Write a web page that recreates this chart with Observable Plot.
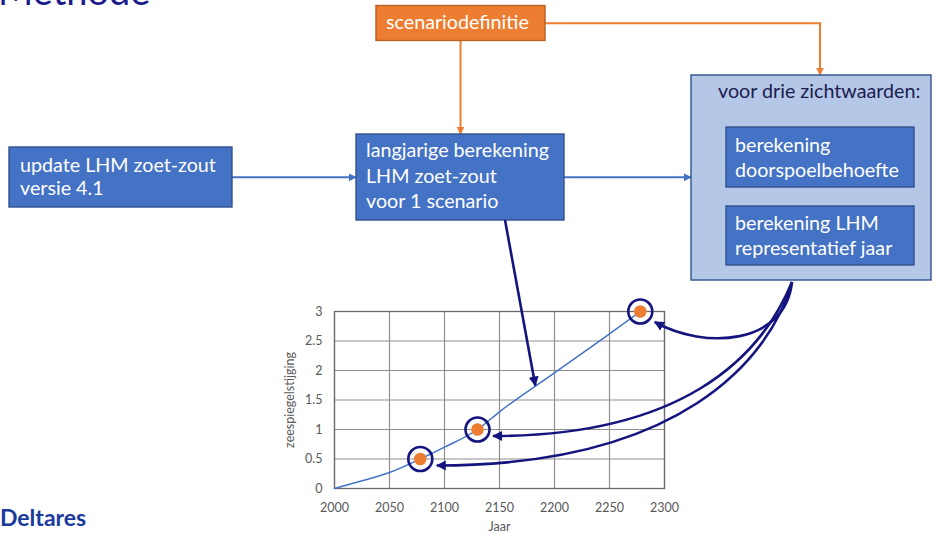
<!DOCTYPE html>
<html><head><meta charset="utf-8">
<script src="https://cdn.jsdelivr.net/npm/d3@7"></script>
<script src="https://cdn.jsdelivr.net/npm/@observablehq/plot@0.6"></script>
<style>
html,body{margin:0;padding:0;background:#fff;}
#page{position:relative;width:938px;height:533px;overflow:hidden;font-family:Lato,"Open Sans",sans-serif;}
#chart{position:absolute;left:280px;top:295px;}
</style></head>
<body><div id="page"><div id="chart"></div></div>
<script>
// ---- data ----
const years = [2000, 2025, 2050, 2078, 2100, 2130, 2150, 2200, 2250, 2278];
const rise  = [0, 0.13, 0.27, 0.5, 0.7, 1.0, 1.3, 1.96, 2.62, 3.0];
const pointYears = [2078, 2130, 2278];
const pointRise  = [0.5, 1.0, 3.0];
const xTicks = [2000, 2050, 2100, 2150, 2200, 2250, 2300];
const yTicks = [0, 0.5, 1, 1.5, 2, 2.5, 3];
const xLabel = "Jaar";
const yLabel = "zeespiegelstijging";
const markedYear = 2183; // where the straight arrow touches the curve

const titleText = "Methode";
const logoText = "Deltares";
const textUpdate = ["update LHM zoet-zout", "versie 4.1"];
const textLangjarig = ["langjarige berekening", "LHM zoet-zout", "voor 1 scenario"];
const textScenario = ["scenariodefinitie"];
const textHeader = ["voor drie zichtwaarden:"];
const textDoorspoel = ["berekening", "doorspoelbehoefte"];
const textRepr = ["berekening LHM", "representatief jaar"];

// ---- chart ----
const series = years.map((y, i) => ({year: y, rise: rise[i]}));
const points = pointYears.map((y, i) => ({year: y, rise: pointRise[i]}));
const CX = 280, CY = 295;
const navy = "#14147f";

const chart = Plot.plot({
  width: 400, height: 238,
  marginLeft: 54, marginTop: 16, marginRight: 16, marginBottom: 45,
  style: {fontFamily: "Lato, sans-serif", fontSize: "12.5px", color: "#595959", background: "transparent", overflow: "visible"},
  x: {domain: [2000, 2300]},
  y: {domain: [0, 3]},
  marks: [
    Plot.gridX(xTicks, {stroke: "#8f8f8f", strokeOpacity: 1, strokeWidth: 1.2}),
    Plot.gridY(yTicks, {stroke: "#8f8f8f", strokeOpacity: 1, strokeWidth: 1.2}),
    Plot.frame({stroke: "#6b6b6b", strokeWidth: 1.3}),
    Plot.axisX({ticks: xTicks, tickSize: 0, tickPadding: 15, tickFormat: d => String(d), label: xLabel, labelAnchor: "center", labelArrow: "none", fill: "#595959"}),
    Plot.axisY({ticks: yTicks, tickSize: 0, tickPadding: 12, tickFormat: d => String(d), label: yLabel, labelAnchor: "center", labelArrow: "none", labelOffset: 49, fill: "#595959"}),
    Plot.line(series, {x: "year", y: "rise", stroke: "#4472C4", strokeWidth: 1.5, curve: "monotone-x"}),
    Plot.dot(points, {x: "year", y: "rise", r: 6.3, fill: "#ED7D31"}),
    Plot.dot(points, {x: "year", y: "rise", r: 12, stroke: navy, strokeWidth: 2.6, fill: "none"})
  ]
});
document.getElementById("chart").append(chart);
const sx = chart.scale("x"), sy = chart.scale("y");
const px = yr => CX + sx.apply(yr);
const py = v => CY + sy.apply(v);
function valueAt(yr) {
  for (let i = 1; i < years.length; i++) {
    if (yr <= years[i]) {
      const t = (yr - years[i-1]) / (years[i] - years[i-1]);
      return rise[i-1] + t * (rise[i] - rise[i-1]);
    }
  }
  return rise[rise.length - 1];
}

// ---- diagram overlay ----
const svg = d3.create("svg").attr("width", 938).attr("height", 533)
  .style("position", "absolute").style("left", "0px").style("top", "0px")
  .style("font-family", "Lato, 'Open Sans', sans-serif");
document.getElementById("page").append(svg.node());

// measure to fit Calibri-like widths
const probe = svg.append("text").attr("font-size", 100).text(textLangjarig[0]);
const fs = 100 * 183 / probe.node().getComputedTextLength();
probe.remove();

const defs = svg.append("defs");
function marker(id, color, size) {
  defs.append("marker").attr("id", id).attr("viewBox", "0 0 10 10").attr("refX", 9).attr("refY", 5)
    .attr("markerWidth", size).attr("markerHeight", size).attr("markerUnits", "userSpaceOnUse").attr("orient", "auto")
    .append("path").attr("d", "M0,0L10,5L0,10z").attr("fill", color);
}
marker("mOrange", "#ED7D31", 8);
marker("mBlue", "#4472C4", 8);
marker("mNavy", navy, 10);

// title & logo
svg.append("text").attr("x", -2).attr("y", 5).attr("font-size", 38).attr("fill", "#1c1c8a").text(titleText);
svg.append("text").attr("x", 0).attr("y", 526).attr("font-size", 23).attr("font-weight", 700).attr("fill", "#1a3a9e").text(logoText);

const boxes = [
  {lines: textUpdate, x: 9, y: 147, w: 223, h: 60, fill: "#4472C4", stroke: "#2F528F", tx: 20, base: [171.5, 195], color: "#fff"},
  {lines: textLangjarig, x: 356, y: 134, w: 208, h: 86, fill: "#4472C4", stroke: "#2F528F", tx: 366, base: [157, 183, 208], color: "#fff"},
  {lines: textScenario, x: 376, y: 5.5, w: 169, h: 35, fill: "#ED7D31", stroke: "#B85F22", tx: 386, base: [28.5], color: "#fff"},
  {lines: textHeader, x: 691, y: 75, w: 240, h: 205, fill: "#B4C7E7", stroke: "#2F528F", tx: 718, base: [98], color: "#1c1c50"},
  {lines: textDoorspoel, x: 726, y: 127, w: 188, h: 60, fill: "#4472C4", stroke: "#2F528F", tx: 735, base: [152, 177], color: "#fff"},
  {lines: textRepr, x: 726, y: 206, w: 188, h: 59, fill: "#4472C4", stroke: "#2F528F", tx: 735, base: [230, 255], color: "#fff"}
];

// connectors
const g = svg.append("g").attr("fill", "none");
g.append("path").attr("d", "M545,23.3H820V75").attr("stroke", "#ED7D31").attr("stroke-width", 2).attr("marker-end", "url(#mOrange)");
g.append("path").attr("d", "M460.5,40.5V134").attr("stroke", "#ED7D31").attr("stroke-width", 2).attr("marker-end", "url(#mOrange)");
g.append("path").attr("d", "M232,177.3H356").attr("stroke", "#4472C4").attr("stroke-width", 2).attr("marker-end", "url(#mBlue)");
g.append("path").attr("d", "M564,177.3H691").attr("stroke", "#4472C4").attr("stroke-width", 2).attr("marker-end", "url(#mBlue)");

for (const b of boxes) {
  svg.append("rect").attr("x", b.x).attr("y", b.y).attr("width", b.w).attr("height", b.h)
    .attr("fill", b.fill).attr("stroke", b.stroke).attr("stroke-width", 1.4);
  b.lines.forEach((t, i) => {
    svg.append("text").attr("x", b.tx).attr("y", b.base[i]).attr("font-size", fs).attr("fill", b.color).text(t);
  });
}

// navy arrows into the chart
const nav = svg.append("g").attr("fill", "none").attr("stroke", navy).attr("stroke-width", 2.6).attr("marker-end", "url(#mNavy)");
const tipLine = [px(markedYear), py(valueAt(markedYear))];
nav.append("path").attr("d", `M505,220L${tipLine[0]},${tipLine[1]}`);

const S = [792, 282];
const offsets = [[17, 7], [16, 7], [15, 11]];
const ctrl = [
  (t) => [[770, 360], [680, t[1]]],
  (t) => [[760, 360], [680, t[1]]],
  (t) => [[785, 345], [705, 350]]
];
points.forEach((p, i) => {
  const t = [px(p.year) + offsets[i][0], py(p.rise) + offsets[i][1]];
  const [c1, c2] = ctrl[i](t);
  nav.append("path").attr("d", `M${S[0]},${S[1]}C${c1[0]},${c1[1]} ${c2[0]},${c2[1]} ${t[0]},${t[1]}`);
});
</script>
</body></html>
